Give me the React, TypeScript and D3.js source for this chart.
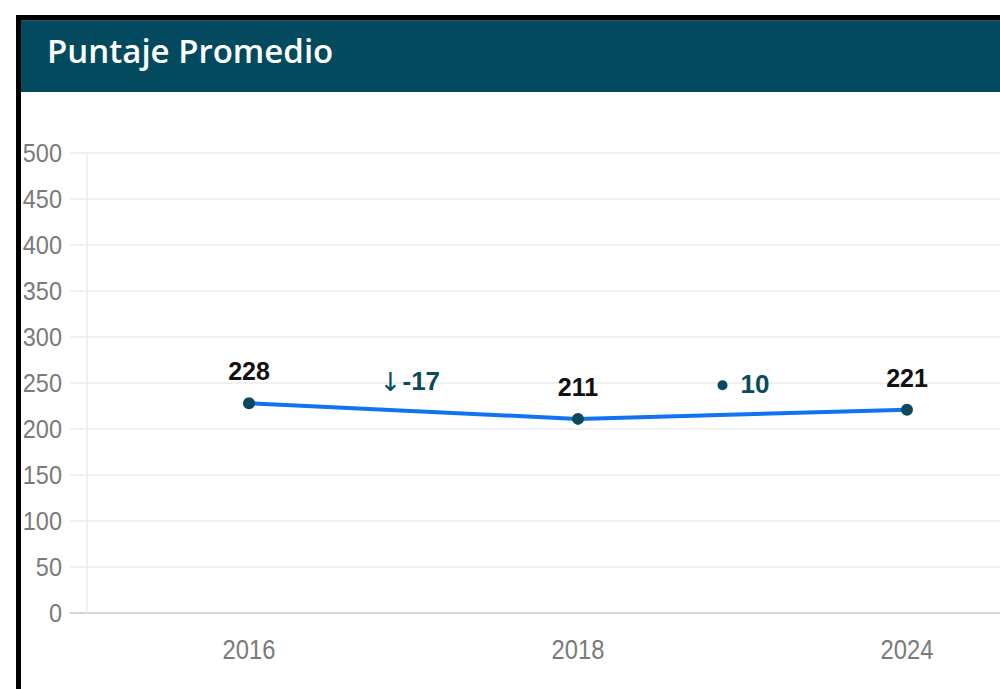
import React from "react";
import * as d3 from "d3";

const title = "Puntaje Promedio";
const years = ["2016", "2018", "2024"];
const scores = [228, 211, 221];
const deltas = [-17, 10];
const yTicks = [0, 50, 100, 150, 200, 250, 300, 350, 400, 450, 500];

export default function App() {
  const W = 1000;
  const H = 689;
  const x = d3.scalePoint<string>().domain(years).range([249, 907]);
  const y = d3.scaleLinear().domain([0, 500]).range([613, 153]);
  const line = d3
    .line<number>()
    .x((_, i) => x(years[i]) as number)
    .y((d) => y(d));
  const sans = "'Liberation Sans', Arial, sans-serif";
  const teal = "#0a4a5c";
  return (
    <svg width={W} height={H} style={{ position: "absolute", left: 0, top: 0, background: "#fff" }}>
      {/* frame */}
      <rect x={16} y={15} width={W - 16} height={5} fill="#000" />
      <rect x={16} y={15} width={5} height={H - 15} fill="#000" />
      <rect x={21} y={20} width={W - 21} height={72} fill="#044a5e" />
      <rect x={21} y={20} width={W - 21} height={1} fill="#556" opacity={0.6} />
      <text x={47} y={63} fill="#fff" fontFamily="'Open Sans', sans-serif" fontWeight={600} fontSize={33}>
        {title}
      </text>
      {/* grid */}
      {yTicks.map((t) => (
        <g key={t}>
          <line
            x1={70}
            x2={W}
            y1={y(t)}
            y2={y(t)}
            stroke={t === 0 ? "#d6d6d6" : "#ebebeb"}
            strokeWidth={t === 0 ? 2 : 1.5}
          />
          <text
            transform={`translate(62,${y(t)}) scale(0.94,1)`}
            dy="0.36em"
            textAnchor="end"
            fill="#7a7a7a"
            fontFamily={sans}
            fontSize={25}
          >
            {t}
          </text>
        </g>
      ))}
      <line x1={87} x2={87} y1={153} y2={613} stroke="#ebebeb" strokeWidth={1.5} />
      {years.map((yr) => (
        <text
          key={yr}
          transform={`translate(${x(yr)},649) scale(0.88,1)`}
          dy="0.36em"
          textAnchor="middle"
          fill="#7a7a7a"
          fontFamily={sans}
          fontSize={27}
        >
          {yr}
        </text>
      ))}
      <path d={line(scores) || ""} fill="none" stroke="#1273f0" strokeWidth={4} strokeLinejoin="round" />
      {scores.map((s, i) => (
        <g key={i}>
          <circle cx={x(years[i])} cy={y(s)} r={6} fill={teal} />
          <text
            x={x(years[i])}
            y={y(s) - 23}
            textAnchor="middle"
            fill="#111"
            fontFamily={sans}
            fontWeight={700}
            fontSize={25}
          >
            {s}
          </text>
        </g>
      ))}
      {deltas.map((d, i) => {
        const mx = ((x(years[i]) as number) + (x(years[i + 1]) as number)) / 2;
        const my = (y(scores[i]) + y(scores[i + 1])) / 2 - 21;
        return (
          <g key={i}>
            {d < 0 ? (
              <text x={mx - 23} y={my + 1} textAnchor="middle" fill={teal} fontFamily="'DejaVu Sans', sans-serif" fontSize={26}>
                ↓
              </text>
            ) : (
              <circle cx={mx - 20} cy={my - 8} r={5} fill={teal} />
            )}
            <text
              x={d < 0 ? mx - 11 : mx - 2}
              y={my}
              textAnchor="start"
              fill={teal}
              fontFamily={sans}
              fontWeight={700}
              fontSize={26}
            >
              {`${d}`}
            </text>
          </g>
        );
      })}
    </svg>
  );
}
